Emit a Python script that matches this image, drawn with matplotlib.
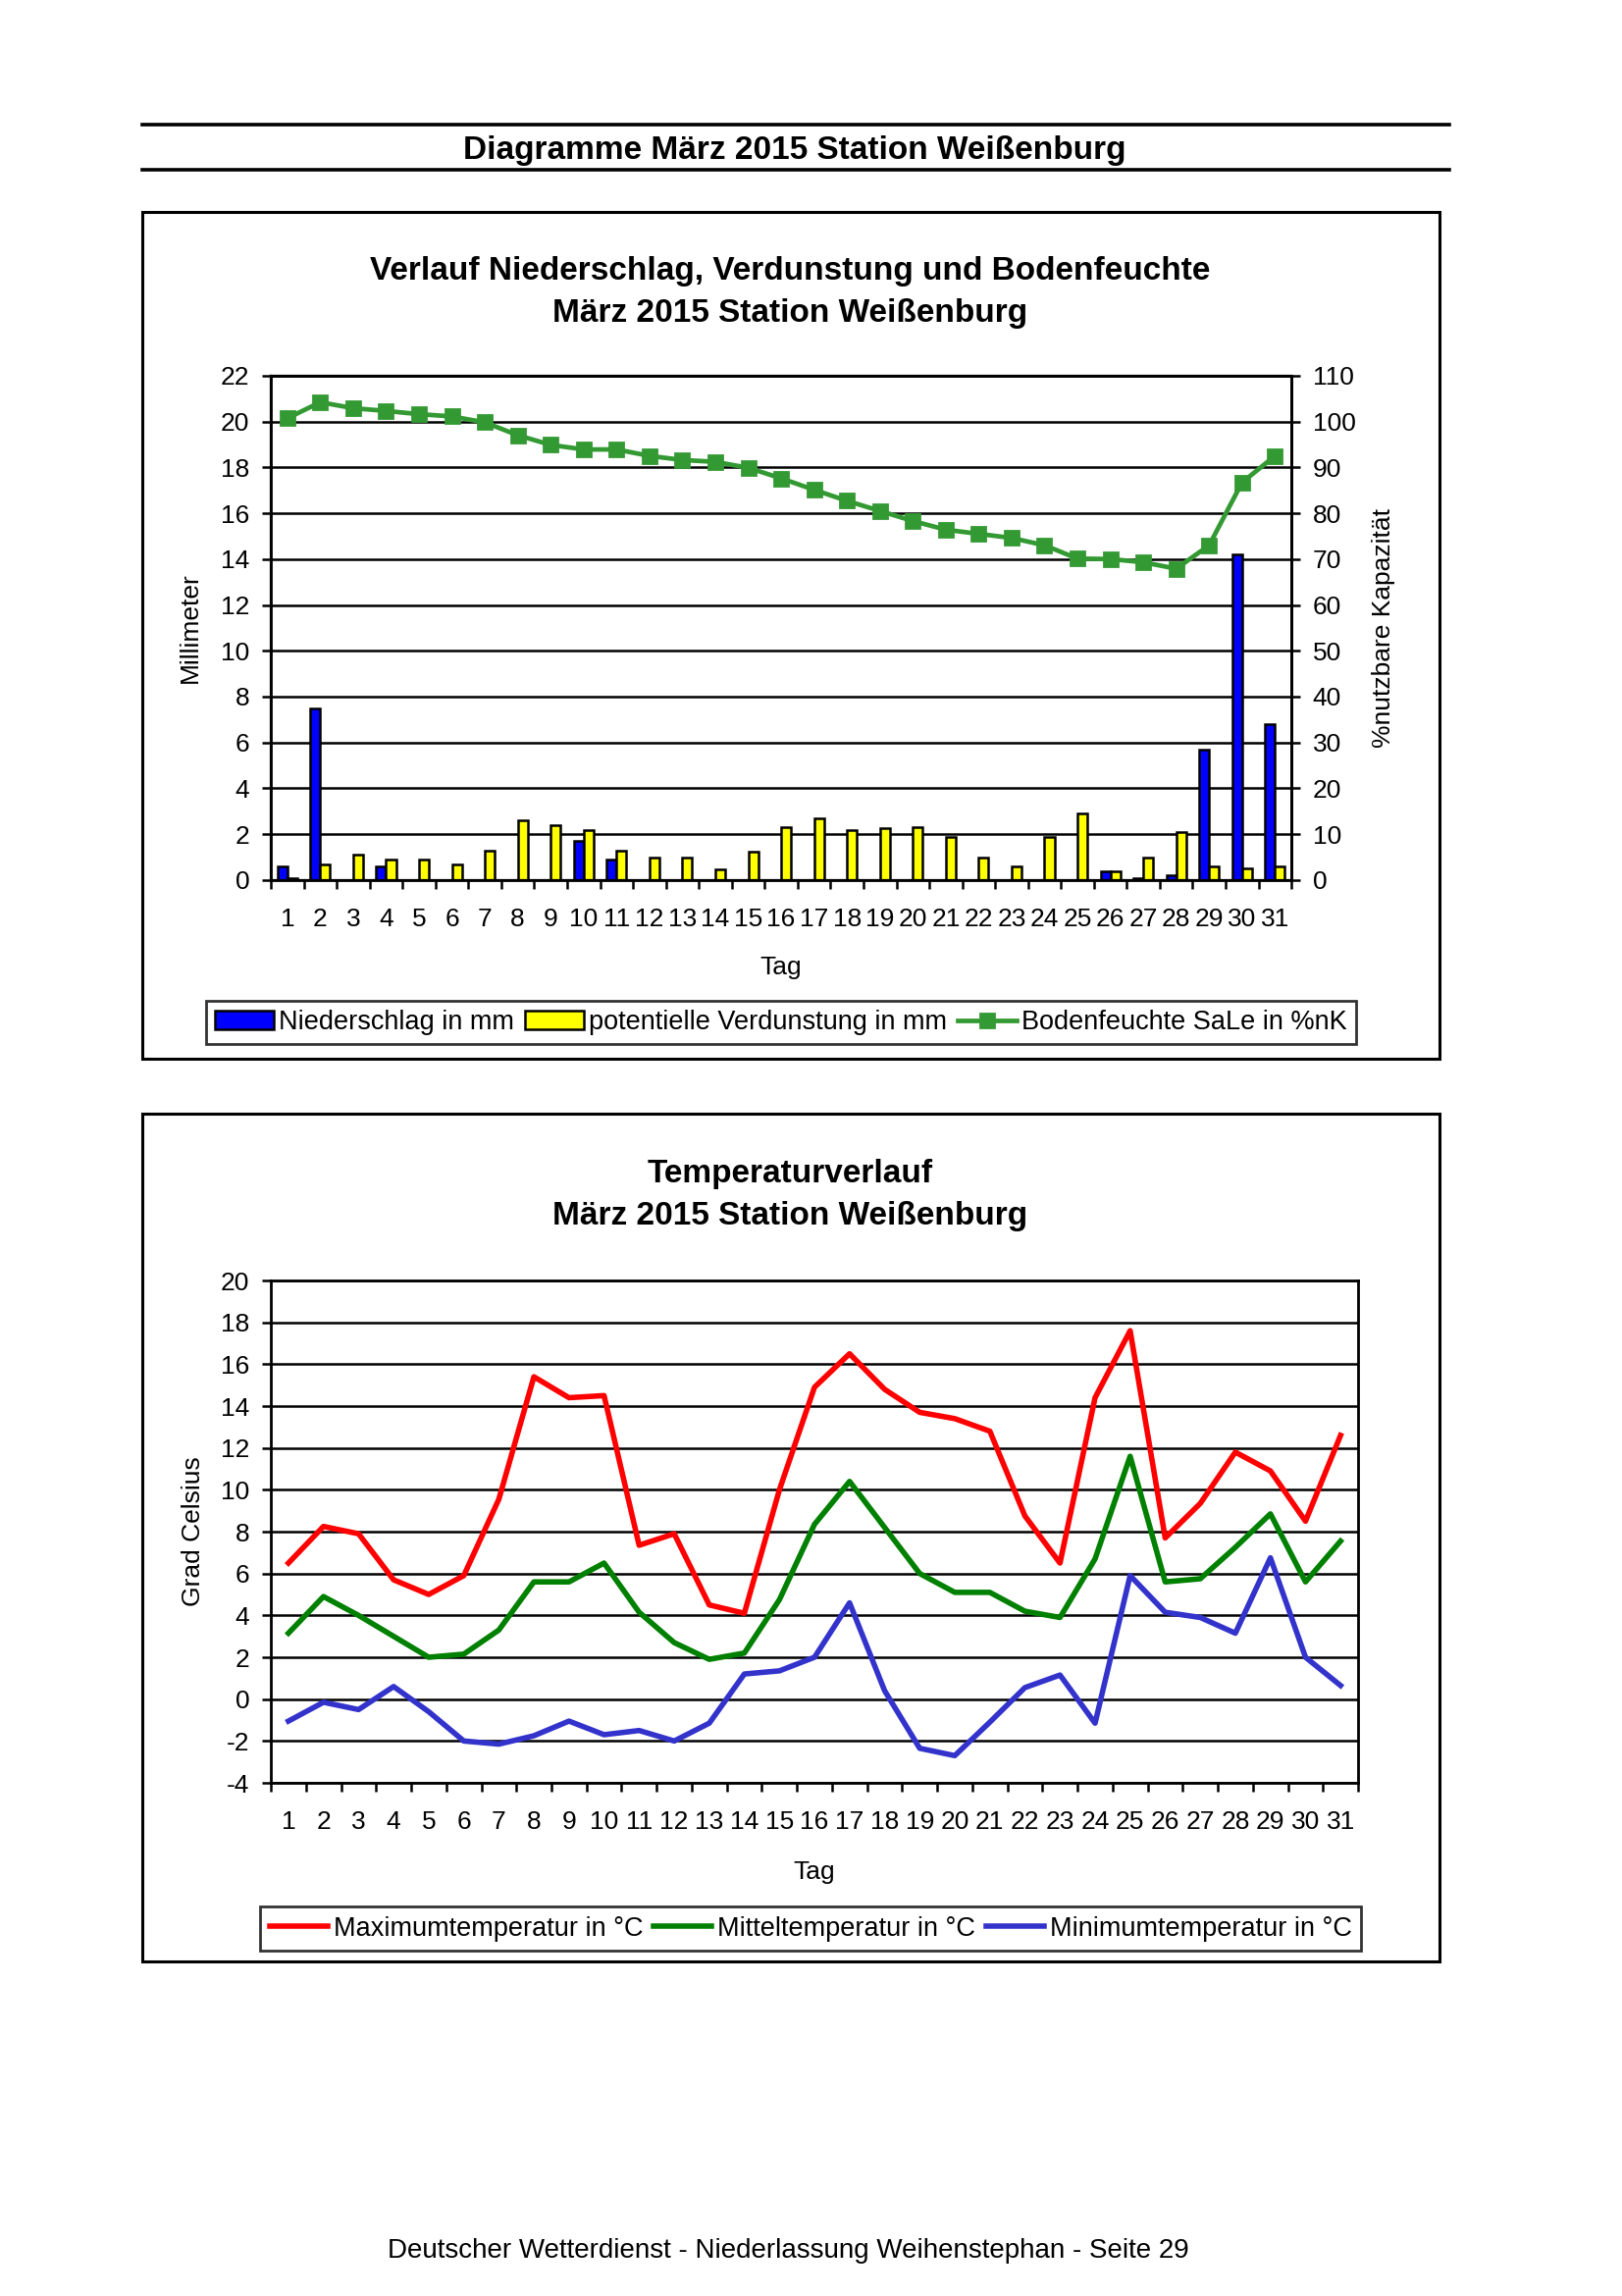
import matplotlib
matplotlib.use("Agg")
import matplotlib.pyplot as plt
from matplotlib.patches import Rectangle
from matplotlib.lines import Line2D
import numpy as np

# Daten März 2015, Station Weißenburg
tage = list(range(1, 32))
tag_labels = [str(t) for t in tage]

niederschlag = [0.6, 7.5, 0.0, 0.6, 0.0, 0.0, 0.0, 0.0, 0.0, 1.7, 0.9, 0.0, 0.0, 0.0, 0.0, 0.0,
                0.0, 0.0, 0.0, 0.0, 0.0, 0.0, 0.0, 0.0, 0.0, 0.4, 0.1, 0.2, 5.7, 14.2, 6.8]
verdunstung = [0.1, 0.7, 1.1, 0.9, 0.9, 0.7, 1.3, 2.6, 2.4, 2.2, 1.3, 1.0, 1.0, 0.45, 1.25, 2.3,
               2.7, 2.2, 2.25, 2.3, 1.9, 1.0, 0.6, 1.9, 2.9, 0.37, 1.0, 2.1, 0.6, 0.5, 0.6]
bodenfeuchte = [100.7, 104.2, 102.9, 102.3, 101.6, 101.1, 99.8, 97.0, 94.9, 93.9, 93.9, 92.5,
                91.6, 91.2, 89.9, 87.6, 85.1, 82.7, 80.5, 78.3, 76.4, 75.5, 74.6, 73.0, 70.1,
                70.0, 69.3, 67.9, 73.0, 86.7, 92.5]

t_max = [6.5, 8.25, 7.9, 5.7, 5.0, 5.9, 9.55, 15.4, 14.4, 14.5, 7.35, 7.9, 4.5, 4.1, 10.0, 14.9,
         16.5, 14.8, 13.7, 13.4, 12.8, 8.75, 6.5, 14.4, 17.6, 7.7, 9.35, 11.8, 10.9, 8.5, 12.6]
t_mittel = [3.15, 4.9, 4.0, 3.0, 2.0, 2.15, 3.3, 5.6, 5.6, 6.5, 4.15, 2.7, 1.9, 2.2, 4.75, 8.35,
            10.4, 8.2, 6.0, 5.1, 5.1, 4.2, 3.9, 6.7, 11.6, 5.6, 5.75, 7.25, 8.85, 5.6, 7.55]
t_min = [-1.05, -0.15, -0.5, 0.6, -0.6, -2.0, -2.15, -1.75, -1.05, -1.7, -1.5, -2.0, -1.15, 1.2,
         1.35, 2.0, 4.6, 0.4, -2.35, -2.7, -1.1, 0.55, 1.15, -1.15, 5.9, 4.15, 3.9, 3.15, 6.75,
         2.0, 0.65]

plt.rcParams['font.family'] = ['Liberation Sans', 'DejaVu Sans']
plt.rcParams['axes.unicode_minus'] = False

fig = plt.figure(figsize=(8.265, 11.70), dpi=200)

# Kopfzeile
fig.add_artist(Line2D([0.0877, 0.8935], [0.9457, 0.9457], color='black', lw=1.3))
fig.add_artist(Line2D([0.0877, 0.8935], [0.9261, 0.9261], color='black', lw=1.3))
fig.text(0.490, 0.9342, 'Diagramme März 2015 Station Weißenburg', ha='center', va='center',
         fontsize=12, fontweight='bold')

# Rahmen um die beiden Diagramme
fig.add_artist(Rectangle((0.0877, 0.5389), 0.7998, 0.3688, transform=fig.transFigure,
                         fill=False, edgecolor='black', lw=1.1))
fig.add_artist(Rectangle((0.0877, 0.1457), 0.7998, 0.3692, transform=fig.transFigure,
                         fill=False, edgecolor='black', lw=1.1))

x = np.array(tage)
tick_fs = 9.5
leg_fs = 9.75

# ---------------- Diagramm 1: Niederschlag, Verdunstung, Bodenfeuchte ----------------
fig.text(0.487, 0.8820, 'Verlauf Niederschlag, Verdunstung und Bodenfeuchte', ha='center',
         va='center', fontsize=12, fontweight='bold')
fig.text(0.487, 0.8636, 'März 2015 Station Weißenburg', ha='center', va='center',
         fontsize=12, fontweight='bold')

ax = fig.add_axes([0.1670, 0.6167, 0.6292, 0.2197])
ax.set_axisbelow(True)
b1 = ax.bar(x - 0.15, niederschlag, width=0.3, color='#0000FF', edgecolor='black', lw=0.9,
            label='Niederschlag in mm')
b2 = ax.bar(x + 0.15, verdunstung, width=0.3, color='#FFFF00', edgecolor='black', lw=0.9,
            label='potentielle Verdunstung in mm')
ax.set_xlim(0.5, 31.5)
ax.set_ylim(0, 22)
ax.set_yticks(np.arange(0, 23, 2))
ax.yaxis.grid(True, color='black', lw=0.9)
ax.set_xticks(x)
ax.set_xticklabels(tag_labels)
ax.set_xticks(np.arange(0.5, 32, 1), minor=True)
ax.tick_params(axis='x', which='major', length=0, pad=10, labelsize=tick_fs)
ax.tick_params(axis='x', which='minor', length=3.2, width=0.9, direction='out')
ax.tick_params(axis='y', length=3.3, width=0.9, pad=4.5, labelsize=tick_fs)
for s in ['left', 'right', 'top', 'bottom']:
    ax.spines[s].set_linewidth(1.0)
ax.set_ylabel('Millimeter', fontsize=tick_fs)
ax.yaxis.set_label_coords(-0.0675, 0.5)
ax.set_xlabel('Tag', fontsize=tick_fs)
ax.xaxis.set_label_coords(0.5, -0.15)

ax2 = ax.twinx()
l1, = ax2.plot(x, bodenfeuchte, color='#339933', lw=1.7, marker='s', markersize=5.2,
               label='Bodenfeuchte SaLe in %nK')
ax2.set_ylim(0, 110)
ax2.set_yticks(np.arange(0, 111, 10))
ax2.tick_params(axis='y', length=3.3, width=0.9, pad=4.5, labelsize=tick_fs)
ax2.spines['right'].set_linewidth(1.0)
ax2.set_ylabel('%nutzbare Kapazität', fontsize=tick_fs)
ax2.yaxis.set_label_coords(1.079, 0.5)

leg = fig.legend(handles=[b1, b2, l1], loc='center', bbox_to_anchor=(0.4816, 0.5547),
                 ncol=3, fontsize=leg_fs, frameon=True, fancybox=False, edgecolor='black',
                 handlelength=2.2, handletextpad=0.2, columnspacing=0.4, borderpad=0.35)
leg.get_frame().set_linewidth(1.0)

# ---------------- Diagramm 2: Temperaturverlauf ----------------
fig.text(0.487, 0.4888, 'Temperaturverlauf', ha='center', va='center',
         fontsize=12, fontweight='bold')
fig.text(0.487, 0.4703, 'März 2015 Station Weißenburg', ha='center', va='center',
         fontsize=12, fontweight='bold')

bx = fig.add_axes([0.1670, 0.2235, 0.6703, 0.2188])
bx.set_axisbelow(True)
bx.plot(x, t_max, color='#FF0000', lw=2.0, label='Maximumtemperatur in °C')
bx.plot(x, t_mittel, color='#008000', lw=2.0, label='Mitteltemperatur in °C')
bx.plot(x, t_min, color='#3333CC', lw=2.0, label='Minimumtemperatur in °C')
bx.set_xlim(0.5, 31.5)
bx.set_ylim(-4, 20)
bx.set_yticks(np.arange(-4, 21, 2))
bx.yaxis.grid(True, color='black', lw=0.9)
bx.set_xticks(x)
bx.set_xticklabels(tag_labels)
bx.set_xticks(np.arange(0.5, 32, 1), minor=True)
bx.tick_params(axis='x', which='major', length=0, pad=10, labelsize=tick_fs)
bx.tick_params(axis='x', which='minor', length=3.2, width=0.9, direction='out')
bx.tick_params(axis='y', length=3.3, width=0.9, pad=4.5, labelsize=tick_fs)
for s in ['left', 'right', 'top', 'bottom']:
    bx.spines[s].set_linewidth(1.0)
bx.set_ylabel('Grad Celsius', fontsize=tick_fs)
bx.yaxis.set_label_coords(-0.0605, 0.5)
bx.set_xlabel('Tag', fontsize=tick_fs)
bx.xaxis.set_label_coords(0.5, -0.155)

leg2 = fig.legend(handles=bx.get_lines(), loc='center', bbox_to_anchor=(0.4997, 0.1600),
                  ncol=3, fontsize=leg_fs, frameon=True, fancybox=False, edgecolor='black',
                  handlelength=2.2, handletextpad=0.2, columnspacing=0.4, borderpad=0.35)
leg2.get_frame().set_linewidth(1.0)

# Fußzeile
fig.text(0.486, 0.0195, 'Deutscher Wetterdienst - Niederlassung Weihenstephan - Seite 29',
         ha='center', va='center', fontsize=10)

fig.savefig('out.png', dpi=200)
